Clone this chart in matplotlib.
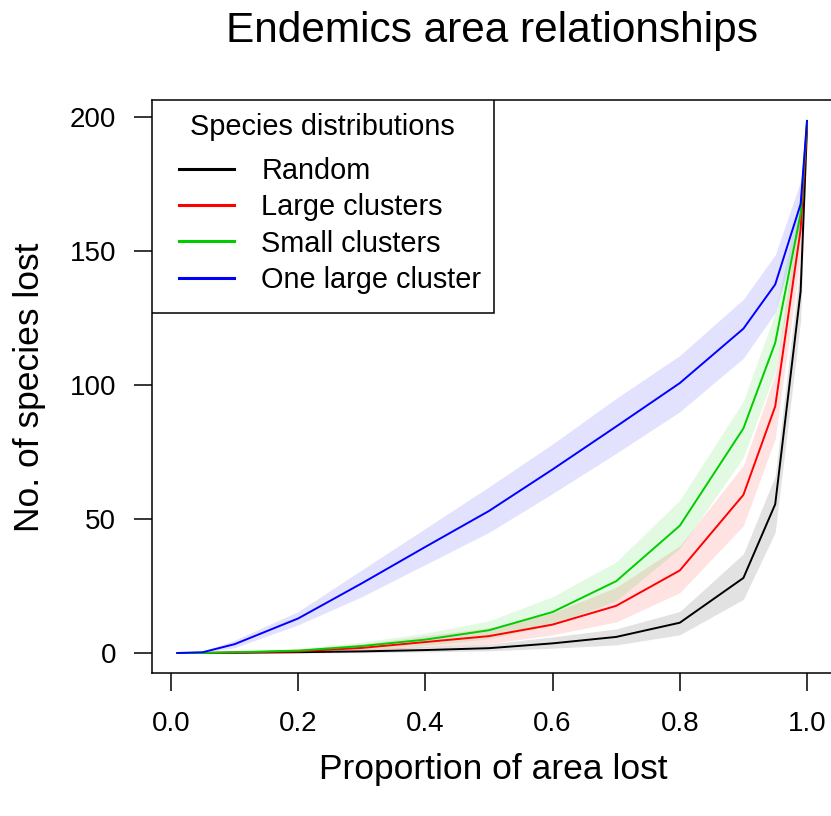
import matplotlib
matplotlib.use("Agg")
import matplotlib.pyplot as plt
from matplotlib.patches import Rectangle

plt.rcParams['font.family'] = ['Liberation Sans', 'DejaVu Sans']

# ---- data ----
area_lost = [0.01, 0.05, 0.1, 0.2, 0.3, 0.4, 0.5, 0.6, 0.7, 0.8, 0.9, 0.95, 0.99, 1.0]

random_mean = [0, 0, 0.1, 0.3, 0.6, 1.1, 1.8, 3.6, 6.0, 11.3, 28, 55.5, 135, 196]
random_lo = [0, 0, 0, 0, 0.1, 0.4, 0.8, 1.8, 3.0, 6.8, 20, 45, 124, 192]
random_hi = [0, 0, 0.4, 1.0, 1.5, 2.4, 3.4, 6.0, 9.0, 15.5, 37, 66, 146, 199]

large_mean = [0, 0, 0.2, 0.6, 1.9, 4.1, 6.3, 10.6, 17.6, 30.8, 59, 92, 158, 197]
large_lo = [0, 0, 0, 0.2, 0.8, 2.2, 3.5, 6.8, 11.6, 22.5, 47.5, 80, 148, 194]
large_hi = [0, 0, 0.5, 1.3, 3.4, 6.4, 9.4, 15, 24.5, 40, 70, 104, 168, 199]

small_mean = [0, 0, 0.3, 0.9, 2.6, 5.0, 8.5, 15.3, 26.8, 47.5, 83.8, 115.7, 164, 198.5]
small_lo = [0, 0, 0.1, 0.4, 1.3, 2.9, 5.3, 10.5, 19.5, 39, 73, 105, 157, 196]
small_hi = [0, 0, 0.6, 1.6, 4.1, 7.4, 12, 21, 34, 57, 94, 127, 171, 200]

one_mean = [0, 0.3, 3.3, 12.9, 26, 39.6, 53, 68.5, 84.5, 100.7, 121, 137.5, 167.5, 198.5]
one_lo = [0, 0.1, 2, 10.5, 21, 33, 45, 59.5, 74.5, 90, 110, 127, 160, 197]
one_hi = [0, 0.6, 4.8, 15.5, 31, 46.5, 62, 78, 95, 111, 132, 148.5, 176, 200]

series_names = ["Random", "Large clusters", "Small clusters", "One large cluster"]
series_colors = ["#000000", "#FF0000", "#00CD00", "#0000FF"]
legend_title = "Species distributions"

x_ticks = [0.0, 0.2, 0.4, 0.6, 0.8, 1.0]
x_tick_labels = ["0.0", "0.2", "0.4", "0.6", "0.8", "1.0"]
y_ticks = [0, 50, 100, 150, 200]
y_tick_labels = ["0", "50", "100", "150", "200"]

# ---- figure ----
W, H = 831, 816
fig = plt.figure(figsize=(W / 100, H / 100), dpi=100)
ax_l, ax_r, ax_t, ax_b = 152, 832, 100, 673.3
ax = fig.add_axes([ax_l / W, 1 - ax_b / H, (ax_r - ax_l) / W, (ax_b - ax_t) / H])


def axx(px):
    return (px - ax_l) / (ax_r - ax_l)


def axy(py):
    return (ax_b - py) / (ax_b - ax_t)


means = [random_mean, large_mean, small_mean, one_mean]
los = [random_lo, large_lo, small_lo, one_lo]
his = [random_hi, large_hi, small_hi, one_hi]

for lo, hi, c in zip(los, his, series_colors):
    ax.fill_between(area_lost, lo, hi, color=c, alpha=0.115, linewidth=0)

for m, c, name in zip(means, series_colors, series_names):
    ax.plot(area_lost, m, color=c, linewidth=1.4, label=name)

ax.set_xlim(-0.0299, 1.0393)
ax.set_ylim(-7.57, 206.3)

ax.set_xticks(x_ticks)
ax.set_xticklabels(x_tick_labels)
ax.set_yticks(y_ticks)
ax.set_yticklabels(y_tick_labels)
ax.tick_params(axis='both', direction='out', length=13, width=1.1,
               labelsize=20, pad=13, color='black')
ax.tick_params(axis='x', pad=14)
for s in ax.spines.values():
    s.set_linewidth(1.1)
    s.set_color('black')

ax.set_xlabel("Proportion of area lost", fontsize=25.5)
ax.xaxis.label.set_va('center')
ax.xaxis.set_label_coords(axx(493), axy(770))
ax.set_ylabel("No. of species lost", fontsize=25.5)
ax.yaxis.label.set_va('center')
ax.yaxis.set_label_coords(axx(30), axy(387))

fig.text(492 / W, 1 - 31 / H, "Endemics area relationships", fontsize=30.5,
         ha='center', va='center')

# legend: frame + title + entries
frame = Rectangle((axx(152), axy(313.3)), axx(494) - axx(152), axy(100) - axy(313.3),
                  transform=ax.transAxes, facecolor='white', edgecolor='black',
                  linewidth=1.1, zorder=4)
ax.add_patch(frame)
ax.text(axx(322), axy(127), legend_title, transform=ax.transAxes, fontsize=20.8,
        ha='center', va='center', zorder=5)
leg = ax.legend(loc='center left', bbox_to_anchor=(axx(179), axy(225.5)),
                borderaxespad=0, borderpad=0, frameon=False, fontsize=20.8,
                handlelength=1.91, handletextpad=0.94, labelspacing=0.28)
leg.set_zorder(6)
for h in leg.get_lines():
    h.set_linewidth(2.2)

fig.savefig("out.png", dpi=100)
